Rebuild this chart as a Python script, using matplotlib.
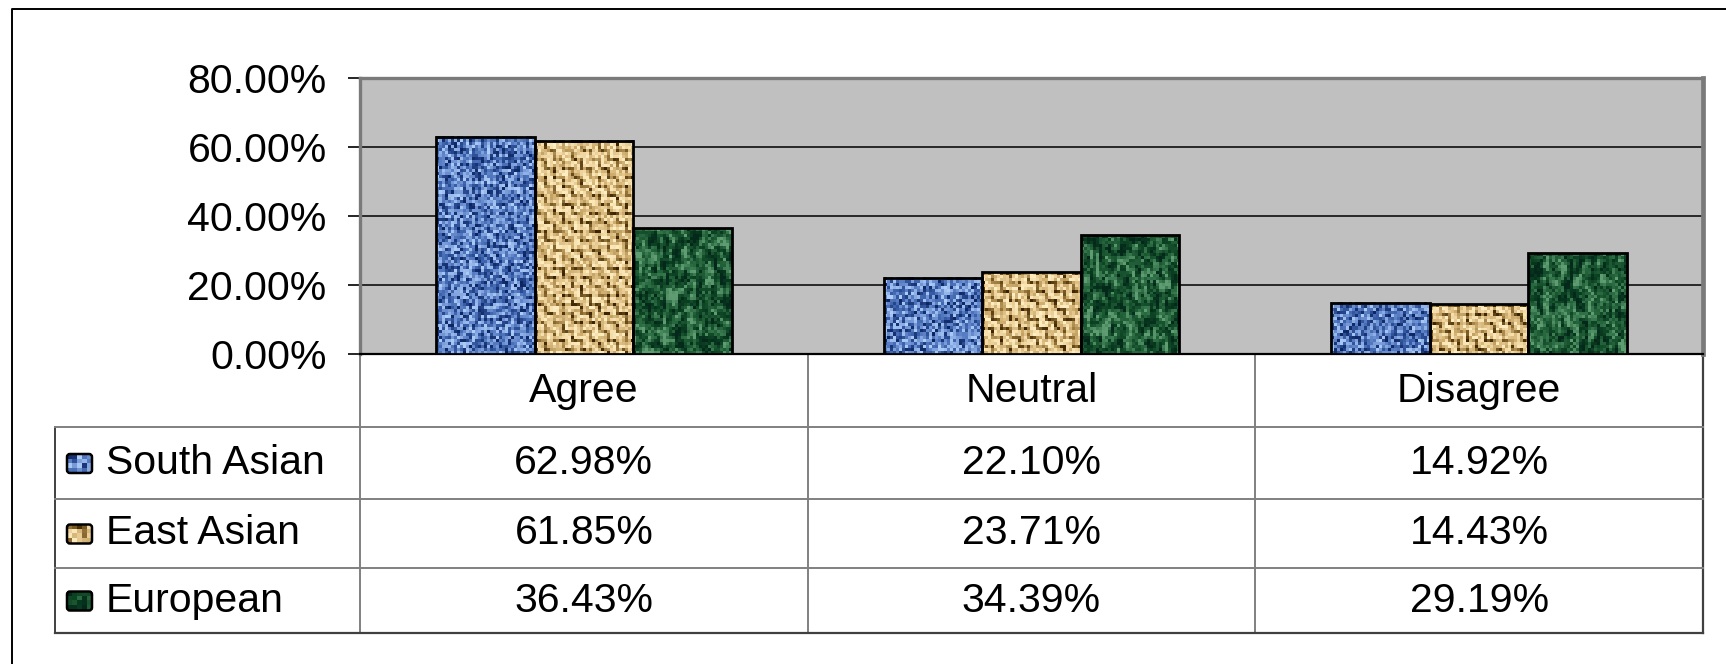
import numpy as np
import matplotlib
matplotlib.use('Agg')
from matplotlib import pyplot as plt
from matplotlib.colors import LinearSegmentedColormap
from matplotlib.patches import FancyBboxPatch
from matplotlib.lines import Line2D

categories = ['Agree', 'Neutral', 'Disagree']
groups = ['South Asian', 'East Asian', 'European']
south_asian = [62.98, 22.10, 14.92]
east_asian = [61.85, 23.71, 14.43]
european = [36.43, 34.39, 29.19]
y_ticks = [0, 20, 40, 60, 80]

W, H = 1726, 664
FS = 29.5
plt.rcParams['font.family'] = ['Liberation Sans', 'DejaVu Sans']

# colour ramps for the fabric-like fills
cmaps = [
    LinearSegmentedColormap.from_list('blue', ['#0c2462', '#3a60aa', '#7094d4', '#aecdf8']),
    LinearSegmentedColormap.from_list('tan', ['#3a2200', '#8a6a30', '#cfae70', '#f0d6a0', '#fff0c4']),
    LinearSegmentedColormap.from_list('green', ['#04281a', '#0d4424', '#2a6a40', '#5f9c72']),
]


def noise(rows, cols, seed):
    i, j = np.mgrid[0:rows, 0:cols]
    v = np.sin(i * 12.9898 + j * 78.233 + seed * 4.1414) * 43758.5453
    return v - np.floor(v)


def texture(kind, rows, cols, seed):
    n = noise(rows, cols, seed)
    if kind == 1:
        i, j = np.mgrid[0:rows, 0:cols]
        flip = ((i // 3 + j // 3) % 2) == 0
        stripe = np.where(flip, i % 3 == 0, j % 3 == 0)
        return 0.55 * n + 0.45 * (~stripe)
    if kind == 2:
        s = (n + np.roll(n, 1, 0) + np.roll(n, 1, 1) + np.roll(n, -1, 0)) / 4
        return np.clip((s - 0.25) * 2.0, 0, 1)
    return n


fig = plt.figure(figsize=(W / 100, H / 100), dpi=100)

# full-figure pixel axes for the frame and the data table
bg = fig.add_axes([0, 0, 1, 1])
bg.set_xlim(0, W)
bg.set_ylim(H, 0)
bg.axis('off')

ax = fig.add_axes([360 / W, 1 - 354 / H, (1703 - 360) / W, (354 - 78) / H])
ax.set_facecolor('#c0c0c0')

x = np.arange(len(categories))
bw = 0.22
series = [south_asian, east_asian, european]
for k, vals in enumerate(series):
    bars = ax.bar(x + (k - 1) * bw, vals, bw, facecolor='none',
                  edgecolor='black', linewidth=2.0, zorder=4)
    for c, b in enumerate(bars):
        h = b.get_height()
        rows = max(2, int(round(h / 80 * 276 / 3)))
        tex = texture(k, rows, 33, k * 7 + c)
        ax.imshow(tex, cmap=cmaps[k], vmin=0, vmax=1, aspect='auto',
                  interpolation='nearest', zorder=3,
                  extent=(b.get_x(), b.get_x() + b.get_width(), 0, h))

ax.set_xlim(-0.5, 2.5)
ax.set_ylim(0, 80)
ax.set_xticks([])
ax.set_yticks(y_ticks)
ax.set_yticklabels([f'{v:.2f}%' for v in y_ticks])
ax.tick_params(axis='y', length=9, width=1.2, color='black', pad=15, labelsize=FS)
ax.yaxis.grid(True, color='black', linewidth=1.1)
ax.set_axisbelow(True)
for side in ['left', 'top']:
    ax.spines[side].set_color('#7a7a7a')
    ax.spines[side].set_linewidth(2.4)
ax.spines['right'].set_color('#7a7a7a')
ax.spines['right'].set_linewidth(3.4)
ax.spines['bottom'].set_color('black')
ax.spines['bottom'].set_linewidth(1.6)

# outer frame (runs off the right and bottom edges)
bg.add_line(Line2D([12, 12, W + 10], [H + 10, 9, 9], color='black', lw=1.4))

# data table
col_edges = np.linspace(360, 1703, len(categories) + 1)
col_mid = (col_edges[:-1] + col_edges[1:]) / 2
head_top, row_edges = 354, [427, 499, 568, 633]
tbl_left = 55
grey, dark = '#808080', '#404040'

for xe in col_edges[:-1]:
    bg.add_line(Line2D([xe, xe], [head_top, row_edges[-1]], color=grey, lw=1.4))
bg.add_line(Line2D([col_edges[-1], col_edges[-1]], [head_top, row_edges[-1]], color=dark, lw=1.6))
bg.add_line(Line2D([tbl_left, tbl_left], [row_edges[0], row_edges[-1]], color=dark, lw=1.4))
for ye in row_edges[:-1]:
    bg.add_line(Line2D([tbl_left, col_edges[-1]], [ye, ye], color=grey, lw=1.4))
bg.add_line(Line2D([tbl_left, col_edges[-1]], [row_edges[-1], row_edges[-1]], color=dark, lw=1.6))

for cx, name in zip(col_mid, categories):
    bg.text(cx, (head_top + row_edges[0]) / 2, name, ha='center', va='center', fontsize=FS)

for r, (name, vals) in enumerate(zip(groups, series)):
    cy = (row_edges[r] + row_edges[r + 1]) / 2
    sw = FancyBboxPatch((67, cy - 9), 25, 19, boxstyle='round,pad=0,rounding_size=3',
                        facecolor='none', edgecolor='black', lw=1.8, zorder=4)
    bg.add_patch(sw)
    bg.imshow(texture(r, 4, 5, 20 + r), cmap=cmaps[r], vmin=0, vmax=1, aspect='auto',
              interpolation='nearest', extent=(67, 92, cy + 10, cy - 9), zorder=3)
    bg.text(106, cy, name, ha='left', va='center', fontsize=FS)
    for cx, v in zip(col_mid, vals):
        bg.text(cx, cy, f'{v:.2f}%', ha='center', va='center', fontsize=FS)

bg.set_xlim(0, W)
bg.set_ylim(H, 0)

plt.savefig('out.png', dpi=100)
plt.close(fig)
